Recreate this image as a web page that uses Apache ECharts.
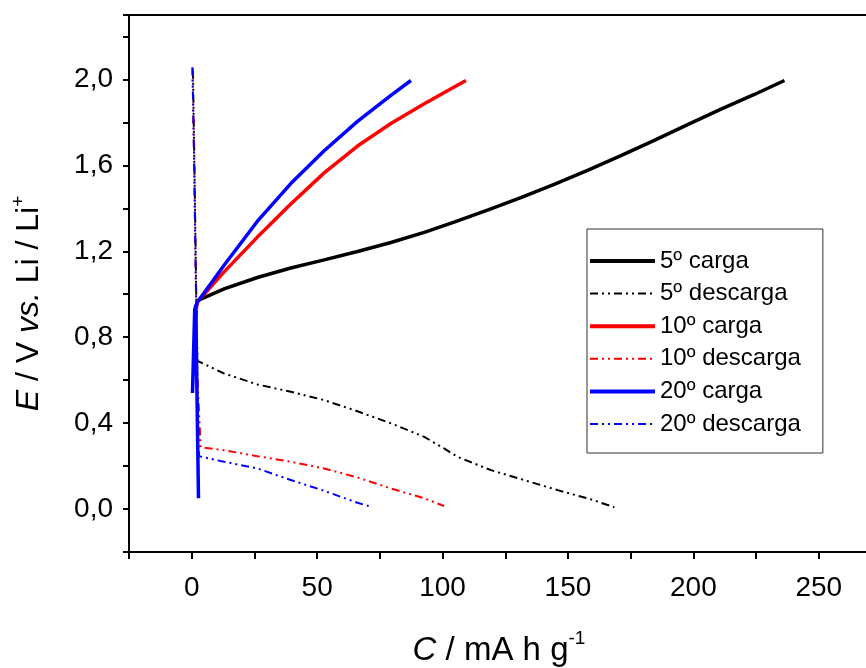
<!DOCTYPE html>
<html>
<head>
<meta charset="utf-8">
<script src="https://cdn.jsdelivr.net/npm/echarts@6/dist/echarts.min.js"></script>
<style>html,body{margin:0;padding:0;background:#fff;}#chart{width:866px;height:668px;}</style>
</head>
<body>
<div id="chart"></div>
<script>
// Series names
const seriesNames = ['5º carga', '5º descarga', '10º carga', '10º descarga', '20º carga', '20º descarga'];

// [C (mA h g-1), E (V)]
const carga5 = [[1.2,0.92],[2.3,0.97],[12.9,1.025],[26.2,1.078],[39.5,1.122],[52.8,1.16],[66.1,1.199],[79.4,1.241],[92.7,1.288],[104.6,1.336],[117.9,1.392],[131.2,1.45],[144.5,1.512],[157.8,1.577],[171.1,1.645],[184.4,1.716],[197.7,1.79],[211,1.862],[224.3,1.93],[236.3,1.995]];
const descarga5 = [[0.5,2.04],[1.2,1.5],[1.8,1.0],[2.3,0.69],[12.9,0.631],[26.2,0.58],[39.5,0.546],[52.8,0.507],[66.1,0.455],[79.4,0.399],[92.7,0.336],[100.6,0.282],[106,0.243],[119.3,0.181],[132.5,0.135],[145.9,0.088],[159.2,0.045],[168.5,0.008]];
const carga10 = [[1.8,0.93],[2.3,0.965],[12.9,1.104],[26.2,1.266],[39.5,1.42],[52.8,1.565],[66.1,1.69],[79.4,1.795],[92.7,1.887],[109.3,1.995]];
const descarga10 = [[0.3,2.056],[1.0,1.6],[1.6,1.1],[2.3,0.6],[3.6,0.287],[12.9,0.274],[26.2,0.246],[39.5,0.22],[52.8,0.189],[66.1,0.147],[79.4,0.096],[92.7,0.05],[100.6,0.014]];
const carga20 = [[2.7,0.05],[1.6,0.95],[0.3,0.54],[1.2,0.93],[2.3,0.964],[12.9,1.135],[26.2,1.34],[39.5,1.515],[52.8,1.668],[66.1,1.805],[79.4,1.926],[87.4,1.995]];
const descarga20 = [[0.3,2.056],[1.0,1.6],[1.6,1.1],[2.2,0.6],[2.9,0.246],[12.9,0.22],[26.2,0.189],[39.5,0.135],[52.8,0.085],[66.1,0.029],[71.4,0.011]];

// Axis ranges / ticks
const xRange = [-25, 270], xStep = 25, xLabelStep = 50;
const yRange = [-0.2, 2.3], yStep = 0.2, yLabelStep = 0.4;

const FONT = 'Arial, "Liberation Sans", sans-serif';
const dashDot = [8, 4, 2, 4, 2, 4];
const colors = ['#000000', '#000000', '#ff0000', '#ff0000', '#0000ff', '#0000ff'];
const datasets = [carga5, descarga5, carga10, descarga10, carga20, descarga20];

function isMultiple(v, step) {
  const k = Math.round(v / step);
  return Math.abs(k * step - v) < 1e-6;
}

const series = datasets.map((d, i) => {
  const dashed = i % 2 === 1;
  return {
    name: seriesNames[i],
    type: 'line',
    data: d,
    symbol: 'none',
    smooth: false,
    animation: false,
    lineStyle: {
      color: colors[i],
      width: dashed ? 2 : 3.5,
      type: dashed ? dashDot : 'solid'
    },
    itemStyle: { color: colors[i] },
    z: 2 + i
  };
});

const legendData = seriesNames.map((n, i) => ({
  name: n,
  itemStyle: { opacity: 0, color: 'transparent', borderWidth: 0 },
  lineStyle: { color: colors[i], width: i % 2 ? 2 : 4, type: i % 2 ? dashDot : 'solid', opacity: 1 }
}));

const chart = echarts.init(document.getElementById('chart'), null, { renderer: 'canvas' });
chart.setOption({
  animation: false,
  backgroundColor: '#fff',
  textStyle: { fontFamily: FONT },
  grid: {
    left: 129, top: 15, width: 740, height: 537,
    containLabel: false,
    outerBoundsMode: 'none',
    show: true, borderColor: '#000', borderWidth: 2, backgroundColor: 'transparent'
  },
  legend: {
    orient: 'vertical',
    left: 587, top: 229,
    padding: [20, 22, 17, 1],
    itemWidth: 65,
    itemHeight: 20,
    itemGap: 8.6,
    borderColor: '#333',
    borderWidth: 1,
    backgroundColor: '#fff',
    selectedMode: false,
    itemStyle: { opacity: 0 },
    textStyle: { fontFamily: FONT, fontSize: 24, color: '#000', lineHeight: 24 },
    data: legendData
  },
  xAxis: {
    type: 'value',
    min: xRange[0], max: xRange[1], interval: xStep,
    name: '{i|C} / mA h g{sup|-1}',
    nameLocation: 'middle',
    nameGap: 77,
    nameTextStyle: {
      fontFamily: FONT, fontSize: 33, color: '#000',
      rich: {
        i: { fontFamily: FONT, fontSize: 33, fontStyle: 'italic', color: '#000' },
        sup: { fontFamily: FONT, fontSize: 19, color: '#000', verticalAlign: 'top', padding: [0, 0, 24, 0] }
      }
    },
    axisLine: { show: true, onZero: false, lineStyle: { color: '#000', width: 2 } },
    axisTick: { show: true, inside: false, length: 7, lineStyle: { color: '#000', width: 2 } },
    axisLabel: {
      fontFamily: FONT, fontSize: 28, color: '#000', margin: 22,
      formatter: v => (v >= 0 && isMultiple(v, xLabelStep)) ? String(Math.round(v)) : ''
    },
    splitLine: { show: false }
  },
  yAxis: {
    type: 'value',
    min: yRange[0], max: yRange[1], interval: yStep,
    name: '{i|E} / V {i|vs.} Li / Li{sup|+}',
    nameLocation: 'middle',
    nameGap: 79,
    nameRotate: 90,
    nameTextStyle: {
      fontFamily: FONT, fontSize: 32, color: '#000',
      padding: [0, 40, 0, 0],
      rich: {
        i: { fontFamily: FONT, fontSize: 32, fontStyle: 'italic', color: '#000' },
        sup: { fontFamily: FONT, fontSize: 19, color: '#000', verticalAlign: 'top', padding: [0, 0, 22, 0] }
      }
    },
    axisLine: { show: true, onZero: false, lineStyle: { color: '#000', width: 2 } },
    axisTick: { show: true, inside: false, length: 6, lineStyle: { color: '#000', width: 2 } },
    axisLabel: {
      fontFamily: FONT, fontSize: 28, color: '#000', margin: 16,
      formatter: v => (v >= -1e-6 && isMultiple(v, yLabelStep)) ? v.toFixed(1).replace('.', ',') : ''
    },
    splitLine: { show: false }
  },
  series: series
});
</script>
</body>
</html>
